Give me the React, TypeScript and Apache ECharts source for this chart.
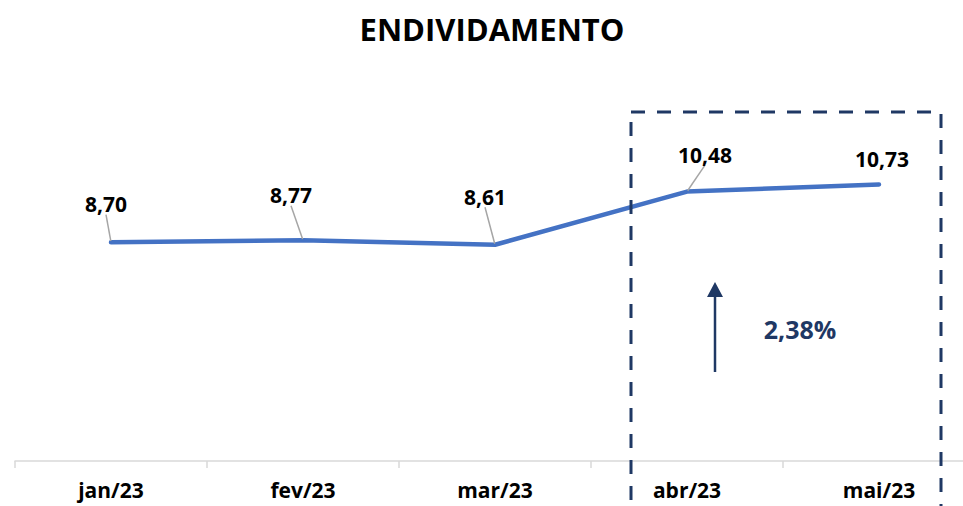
import React, { useEffect, useRef } from "react";
import * as echarts from "echarts";

const categories = ["jan/23", "fev/23", "mar/23", "abr/23", "mai/23"];
const values = [8.7, 8.77, 8.61, 10.48, 10.73];
const titleText = "ENDIVIDAMENTO";
const changeText = "2,38%";

// styling only: label offsets relative to each point (dx, dy) and whether a leader line shows
const labelDx = [-5, -12, -10, 18, 3];
const labelDy = [-38, -45, -48, -37, -26];
const leaderShown = [true, true, true, true, false];

const NAVY = "#1F3864";
const BLUE = "#4472C4";
const FONT = "'Open Sans', sans-serif";

export default function App() {
  const ref = useRef<HTMLDivElement>(null);

  useEffect(() => {
    if (!ref.current) return;
    const chart = echarts.init(ref.current, null, { renderer: "svg" });
    const fmt = (v: number) => v.toFixed(2).replace(".", ",");
    chart.setOption({
      animation: false,
      grid: { left: 15, top: 120, width: 960, height: 341, containLabel: false },
      xAxis: {
        type: "category",
        data: categories,
        boundaryGap: true,
        axisLine: { show: true, lineStyle: { color: "#d9d9d9", width: 1.5 } },
        axisTick: { show: true, length: 7, lineStyle: { color: "#d9d9d9", width: 1.5 } },
        axisLabel: {
          color: "#000",
          fontFamily: FONT,
          fontWeight: "bold",
          fontSize: 21,
          margin: 18,
        },
        splitLine: { show: false },
      },
      yAxis: {
        type: "value",
        min: 1,
        max: 13,
        show: false,
        splitLine: { show: false },
      },
      series: [
        {
          type: "line",
          data: values.map((v, i) => ({
            value: v,
            labelLine: { show: leaderShown[i] },
          })),
          symbol: "circle",
          symbolSize: 2,
          showSymbol: true,
          itemStyle: { color: BLUE },
          lineStyle: { color: BLUE, width: 4.5, cap: "round" },
          emphasis: { disabled: true },
          label: {
            show: true,
            position: "inside",
            formatter: (p: any) => fmt(p.value),
            color: "#000",
            fontFamily: FONT,
            fontWeight: "bold",
            fontSize: 21,
            padding: [0, 0, 11, 0],
          },
          labelLine: {
            show: true,
            lineStyle: { color: "#a6a6a6", width: 1.5 },
          },
          labelLayout: (params: any) => ({
            dx: labelDx[params.dataIndex],
            dy: labelDy[params.dataIndex],
          }),
          z: 3,
        },
      ],
      graphic: [
        {
          type: "text",
          x: 492,
          y: 29,
          style: {
            text: titleText,
            fill: "#000",
            font: `bold 31px ${FONT}`,
            textAlign: "center",
            textVerticalAlign: "middle",
          },
        },
        {
          type: "rect",
          z: 10,
          shape: { x: 631, y: 112, width: 310, height: 430 },
          style: { fill: "none", stroke: NAVY, lineWidth: 3, lineDash: [14, 12] },
        },
        {
          type: "line",
          z: 10,
          shape: { x1: 715, y1: 372, x2: 715, y2: 294 },
          style: { stroke: NAVY, lineWidth: 2.5 },
        },
        {
          type: "polygon",
          z: 10,
          shape: { points: [[707, 297], [723, 297], [715, 282]] },
          style: { fill: NAVY },
        },
        {
          type: "text",
          z: 10,
          x: 800,
          y: 329,
          style: {
            text: changeText,
            fill: NAVY,
            font: `bold 25px ${FONT}`,
            textAlign: "center",
            textVerticalAlign: "middle",
          },
        },
      ],
    });
    return () => chart.dispose();
  }, []);

  return (
    <div
      style={{
        position: "absolute",
        left: 0,
        top: 0,
        width: 963,
        height: 506,
        overflow: "hidden",
      }}
    >
      <div ref={ref} style={{ width: 990, height: 506 }} />
    </div>
  );
}
